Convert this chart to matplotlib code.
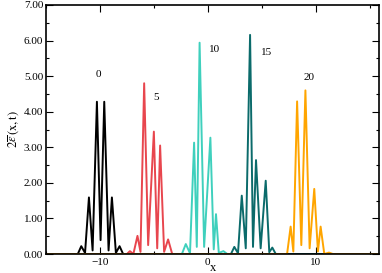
import matplotlib
matplotlib.use("Agg")
import matplotlib.pyplot as plt
from matplotlib.ticker import MultipleLocator, FormatStrFormatter

# Data (x, y pairs: troughs and peaks of each packet)
black_x = [-15.0, -12.05, -11.73, -11.38, -11.02, -10.68, -10.28, -9.94, -9.60, -9.20, -8.89, -8.52, -8.18, -7.85, 16.0]
black_y = [0, 0, 0.22, 0.03, 1.59, 0.10, 4.28, 0.39, 4.28, 0.10, 1.59, 0.03, 0.22, 0, 0]

red_x = [-15.0, -7.50, -7.22, -6.90, -6.52, -6.24, -5.90, -5.53, -5.00, -4.69, -4.42, -4.05, -3.68, -3.30, 16.0]
red_y = [0, 0, 0.08, 0.0, 0.51, 0.06, 4.80, 0.25, 3.44, 0.16, 3.05, 0.06, 0.41, 0, 0]

cyan_x = [-15.0, -2.40, -2.04, -1.65, -1.27, -1.02, -0.76, -0.34, 0.24, 0.55, 0.76, 1.02, 1.45, 1.80, 16.0]
cyan_y = [0, 0, 0.28, 0.02, 3.13, 0.20, 5.94, 0.20, 3.27, 0.13, 1.12, 0.03, 0.08, 0, 0]

teal_x = [-15.0, 2.15, 2.46, 2.80, 3.15, 3.52, 3.92, 4.19, 4.47, 4.90, 5.37, 5.70, 5.98, 6.30, 16.0]
teal_y = [0, 0, 0.20, 0.02, 1.64, 0.16, 6.16, 0.20, 2.64, 0.16, 2.06, 0.05, 0.18, 0, 0]

orange_x = [-15.0, 7.35, 7.68, 7.93, 8.28, 8.67, 9.05, 9.44, 9.87, 10.21, 10.46, 10.80, 11.23, 11.60, 16.0]
orange_y = [0, 0, 0.77, 0.07, 4.29, 0.25, 4.60, 0.16, 1.83, 0.07, 0.77, 0.0, 0.04, 0, 0]

series = [
    (black_x, black_y, "#000000"),
    (red_x, red_y, "#e8464e"),
    (cyan_x, cyan_y, "#3fd0bd"),
    (teal_x, teal_y, "#0b6b6b"),
    (orange_x, orange_y, "#ffa500"),
]

labels = ["0", "5", "10", "15", "20"]
label_x = [-10.19, -4.81, 0.60, 5.45, 9.41]
label_y = [5.05, 4.39, 5.76, 5.66, 4.96]

plt.rcParams['font.family'] = ['Liberation Serif', 'DejaVu Serif']
plt.rcParams['mathtext.fontset'] = 'stix'

fig = plt.figure(figsize=(3.82, 2.73), dpi=100)
ax = fig.add_axes([46 / 382, 1 - 254 / 273, (379.3 - 46) / 382, (254 - 5) / 273])

for xs, ys, c in series:
    ax.plot(xs, ys, color=c, lw=1.4, solid_joinstyle='round')

for t, x, y in zip(labels, label_x, label_y):
    ax.text(x, y, t, fontsize=8, ha='center', va='center')

ax.set_xlim(-15, 15.9)
ax.set_ylim(0, 7)
ax.xaxis.set_major_locator(MultipleLocator(10))
ax.xaxis.set_minor_locator(MultipleLocator(5))
ax.yaxis.set_major_locator(MultipleLocator(1))
ax.yaxis.set_minor_locator(MultipleLocator(0.5))
ax.yaxis.set_major_formatter(FormatStrFormatter('%.2f'))
ax.tick_params(which='both', direction='in', top=True, right=True, labelsize=8, width=0.8)
ax.tick_params(which='major', length=5)
ax.tick_params(which='minor', length=2.5)
ax.tick_params(axis='x', pad=3)
ax.tick_params(axis='y', pad=2)
for s in ax.spines.values():
    s.set_linewidth(1.2)

ax.set_xlabel('x', fontsize=9, labelpad=-3.5)
ax.set_ylabel(r'$2\overline{\varepsilon}\,\mathrm{(x,t)}$', fontsize=9, labelpad=2)

fig.savefig('out.png', dpi=100)
